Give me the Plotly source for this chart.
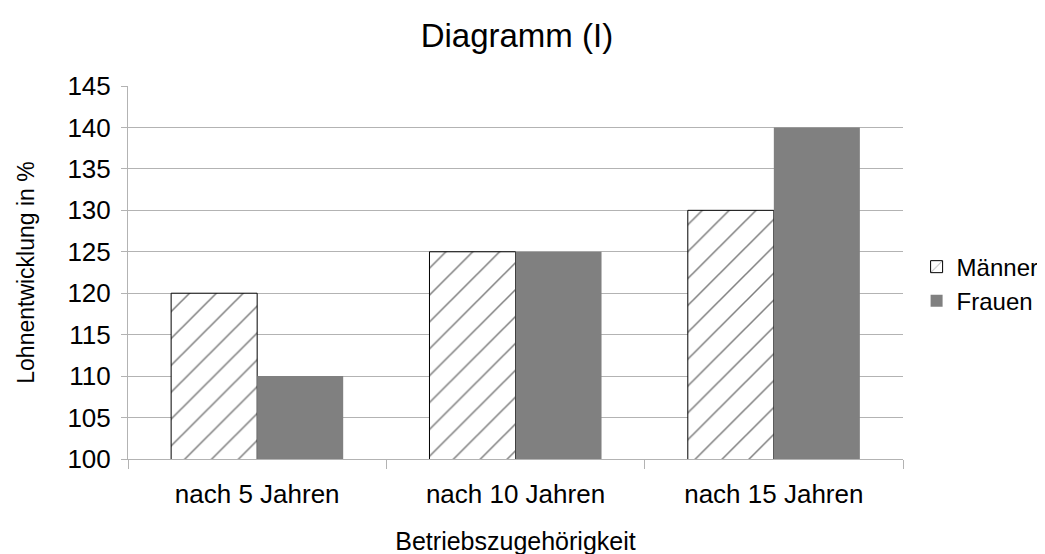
import plotly.graph_objects as go

categories = ["nach 5 Jahren", "nach 10 Jahren", "nach 15 Jahren"]
maenner = [120, 125, 130]
frauen = [110, 125, 140]
y_ticks = [100, 105, 110, 115, 120, 125, 130, 135, 140, 145]

font = "Liberation Sans, Arial, sans-serif"

fig = go.Figure()
fig.add_trace(go.Bar(
    x=categories, y=maenner, name="Männer",
    marker=dict(color="white", line=dict(color="black", width=1),
                pattern=dict(shape="/", fgcolor="black", bgcolor="white", size=19, solidity=0.08)),
))
fig.add_trace(go.Bar(
    x=categories, y=frauen, name="Frauen",
    marker=dict(color="#808080", line=dict(width=0)),
))

fig.update_layout(
    width=1045, height=554,
    margin=dict(l=120, r=150, t=78, b=103),
    paper_bgcolor="white", plot_bgcolor="white",
    font=dict(family=font, size=24, color="black"),
    title=dict(text="Diagramm (I)", x=0.487, xanchor="center", y=0.951, yanchor="middle",
               font=dict(size=33)),
    barmode="group", bargap=0.334, bargroupgap=0,
    showlegend=True,
    legend=dict(xref="container", x=0.991, y=0.469, xanchor="right", yanchor="middle",
                font=dict(size=24), tracegroupgap=0, itemwidth=30),
    xaxis=dict(
        title=dict(text="Betriebszugehörigkeit", font=dict(size=25), standoff=24),
        showline=True, linecolor="#b3b3b3", linewidth=1,
        ticks="outside", tickson="boundaries", ticklen=9, tickcolor="#b3b3b3",
        tickfont=dict(size=26), ticklabelstandoff=12,
        showgrid=False, automargin=False,
    ),
    yaxis=dict(
        title=dict(text="Lohnentwicklung in %", font=dict(size=23), standoff=26),
        range=[100, 145], tickvals=y_ticks,
        showline=True, linecolor="#b3b3b3", linewidth=1,
        ticks="outside", ticklen=6, tickcolor="#b3b3b3",
        tickfont=dict(size=26), ticklabelstandoff=5,
        showgrid=True, gridcolor="#b3b3b3", gridwidth=1,
        zeroline=False, automargin=False,
    ),
)

fig.write_html("out.html")
